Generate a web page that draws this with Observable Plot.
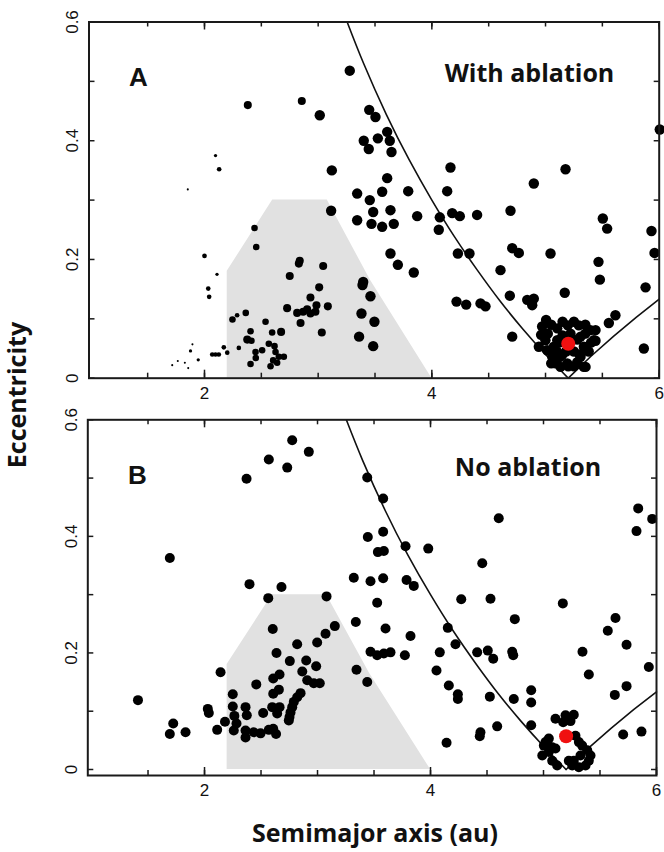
<!DOCTYPE html>
<html><head><meta charset="utf-8">
<script src="https://cdn.jsdelivr.net/npm/d3@7"></script>
<script src="https://cdn.jsdelivr.net/npm/@observablehq/plot@0.6"></script>
<style>
body{margin:0;background:#fff;}
#fig{position:relative;width:664px;height:852px;overflow:hidden;background:#fff;}
.pan{position:absolute;left:0;}
.ytitle{position:absolute;left:16px;top:395px;transform:translate(-50%,-50%) rotate(-90deg);font-weight:bold;font-size:25px;font-family:"Open Sans",Lato,sans-serif;white-space:nowrap;color:#111;}
.xtitle{position:absolute;left:375px;top:832px;transform:translate(-50%,-50%);font-weight:bold;font-size:25px;font-family:"Open Sans",Lato,sans-serif;white-space:nowrap;color:#111;}
</style></head><body><div id="fig"></div><script>
// ---- Panel A (with ablation): semimajor axis (au), eccentricity, relative mass class
const aA = [3.278,2.381,2.856,3.014,3.449,3.504,3.401,3.445,3.525,3.607,3.630,3.645,3.12,2.097,2.129,1.853,3.343,3.454,3.484,3.563,3.607,3.636,3.343,3.469,3.563,3.665,3.114,2.44,2.455,2.0,2.11,2.033,2.041,2.838,2.83,3.044,2.75,3.396,3.39,3.009,2.932,3.46,2.985,3.085,2.727,2.815,2.868,2.903,2.932,2.976,2.845,3.381,3.495,2.246,2.287,2.363,2.537,3.032,3.36,3.484,2.405,2.376,2.413,2.595,2.674,2.302,2.17,2.2,2.068,2.097,2.126,1.894,1.877,1.945,1.765,1.827,1.857,1.716,2.449,2.507,2.451,2.405,2.566,2.616,2.625,2.654,2.698,2.604,2.639,2.581,
4.164,5.176,4.897,6.005,3.792,3.871,4.135,4.070,4.061,4.179,4.246,4.398,4.692,5.504,5.542,5.932,5.959,4.229,4.331,4.707,4.765,5.044,3.636,3.701,3.841,4.604,5.466,5.478,5.88,5.169,4.686,4.839,4.897,4.883,4.217,4.302,4.428,4.472,5.615,5.557,4.707,5.865,5.440,5.352,5.005,4.970,4.961,4.941,5.103,5.196,5.293,5.395,5.44,5.425,5.308,5.337,5.308,5.279,5.337,5.073,5.059,5.088,5.132,5.191,5.146,5.103,4.999,5.014,5.15,5.25,5.22,5.1,5.35,
5.05,5.15,5.25,5.35,5.02,5.12,5.28,5.38,5.18,5.2,5.25,5.12,5.4,5.05,5.3];
const eA = [0.518,0.460,0.467,0.443,0.452,0.440,0.400,0.386,0.404,0.415,0.400,0.381,0.350,0.375,0.352,0.318,0.311,0.300,0.280,0.314,0.337,0.283,0.266,0.260,0.255,0.260,0.282,0.253,0.221,0.206,0.175,0.151,0.137,0.198,0.193,0.189,0.172,0.162,0.157,0.153,0.136,0.138,0.123,0.121,0.118,0.110,0.112,0.116,0.109,0.112,0.093,0.109,0.095,0.099,0.106,0.110,0.095,0.077,0.070,0.054,0.079,0.065,0.063,0.077,0.078,0.051,0.052,0.043,0.040,0.040,0.040,0.057,0.046,0.031,0.029,0.026,0.017,0.022,0.044,0.047,0.034,0.024,0.058,0.054,0.044,0.036,0.036,0.030,0.026,0.020,
0.355,0.352,0.328,0.419,0.315,0.273,0.315,0.271,0.250,0.278,0.273,0.275,0.282,0.269,0.252,0.248,0.211,0.210,0.210,0.219,0.211,0.210,0.210,0.191,0.178,0.182,0.196,0.166,0.153,0.144,0.139,0.132,0.134,0.123,0.129,0.124,0.126,0.121,0.106,0.093,0.070,0.050,0.063,0.019,0.098,0.087,0.073,0.053,0.084,0.089,0.089,0.081,0.081,0.064,0.070,0.053,0.036,0.027,0.019,0.053,0.036,0.025,0.019,0.025,0.039,0.064,0.064,0.047,0.072,0.045,0.075,0.045,0.075,
0.090,0.095,0.095,0.090,0.075,0.060,0.065,0.045,0.045,0.020,0.020,0.035,0.060,0.025,0.040];
const mA = [1,0.6,0.6,1,1,1,1,1,1,1,1,1,1,0.1,0.2,0.04,1,1,1,1,1,1,1,1,1,1,1,0.4,0.4,0.2,0.1,0.2,0.2,0.6,0.6,0.6,0.6,1,1,0.6,0.6,1,0.6,0.6,0.6,0.6,0.6,0.6,0.6,0.6,0.6,1,1,0.4,0.2,0.4,0.4,0.6,1,1,0.4,0.6,0.4,0.4,0.6,0.2,0.2,0.2,0.2,0.2,0.2,0.04,0.1,0.1,0.04,0.04,0.04,0.04,0.4,0.4,0.4,0.4,0.4,0.4,0.4,0.4,0.4,0.4,0.4,0.4,
1,1,1,1,1,1,1,1,1,1,1,1,1,1,1,1,1,1,1,1,1,1,1,1,1,1,1,1,1,1,1,1,1,1,1,1,1,1,1,1,1,1,1,1,1,1,1,1,1,1,1,1,1,1,1,1,1,1,1,1,1,1,1,1,1,1,1,1,1,1,1,1,1,
1,1,1,1,1,1,1,1,1,1,1,1,1,1,1];

// ---- Panel B (no ablation)
const aB = [2.776,2.923,2.569,2.732,2.372,3.44,1.693,3.445,3.534,3.321,3.469,2.398,2.681,2.564,3.08,3.528,2.604,3.153,3.071,2.997,3.339,2.82,2.637,2.755,2.9,2.988,2.865,2.909,2.967,3.02,3.345,3.44,2.142,2.608,2.664,2.458,2.608,2.658,2.85,2.82,2.79,2.776,2.761,2.752,2.746,2.25,1.411,2.029,2.038,2.25,2.363,2.374,2.264,2.181,2.283,2.259,2.363,2.363,2.519,2.599,2.664,2.643,1.723,1.693,1.832,2.112,2.436,2.496,2.569,2.608,2.633,
3.581,4.604,5.838,5.962,5.823,3.581,3.587,3.779,3.98,4.458,3.581,3.788,3.852,4.272,4.531,5.171,4.746,5.637,5.569,3.602,3.823,4.153,5.735,3.469,3.528,3.587,3.646,3.773,4.082,4.221,4.413,4.507,4.555,4.723,4.732,5.345,5.932,5.401,4.053,4.162,4.242,4.242,4.525,4.737,4.891,4.891,4.891,5.631,5.735,4.59,4.442,4.436,4.142,5.705,5.867,
5.106,5.195,5.268,5.239,5.174,5.018,4.989,5.047,5.077,5.121,5.106,5.077,5.283,5.313,5.342,5.387,5.416,5.401,5.327,5.268,5.224,5.254,5.313,5.372,5.047,5.003];
const eB = [0.565,0.545,0.532,0.518,0.499,0.501,0.363,0.399,0.373,0.329,0.323,0.318,0.313,0.294,0.297,0.286,0.241,0.246,0.233,0.218,0.253,0.215,0.200,0.186,0.187,0.177,0.168,0.153,0.148,0.148,0.171,0.150,0.167,0.156,0.163,0.146,0.130,0.137,0.131,0.124,0.116,0.107,0.098,0.090,0.084,0.129,0.119,0.104,0.097,0.108,0.107,0.093,0.092,0.082,0.079,0.067,0.067,0.055,0.097,0.107,0.107,0.096,0.079,0.061,0.064,0.068,0.064,0.062,0.068,0.070,0.061,
0.465,0.431,0.448,0.430,0.409,0.408,0.375,0.383,0.379,0.354,0.328,0.325,0.315,0.292,0.293,0.285,0.258,0.260,0.238,0.242,0.229,0.243,0.214,0.202,0.196,0.199,0.201,0.196,0.201,0.215,0.201,0.204,0.190,0.202,0.196,0.202,0.176,0.163,0.170,0.144,0.129,0.121,0.125,0.121,0.136,0.115,0.076,0.128,0.143,0.074,0.064,0.057,0.046,0.060,0.065,
0.087,0.093,0.094,0.083,0.081,0.047,0.024,0.030,0.015,0.007,0.036,0.038,0.058,0.047,0.041,0.033,0.024,0.015,0.024,0.015,0.015,0.007,0.004,0.007,0.053,0.041];

// ---- Jupiter
const jupA = {a: [5.2], e: [0.058]};
const jupB = {a: [5.2], e: [0.057]};

// ---- Boundary curves
const edgeLeftA = [3.255,3.4,3.6,3.8,4.0,4.2,4.4,4.6,4.8,5.0,5.2];
const edgeLeftE = [0.600,0.530,0.444,0.368,0.300,0.238,0.182,0.130,0.083,0.040,0.000];
const edgeRightA = [5.2,5.4,5.6,5.8,6.0];
const edgeRightE = [0.000,0.037,0.071,0.103,0.133];

// ---- Grey (asteroid belt) region
const beltA = [2.2,2.2,2.6,3.08,3.46,4.0];
const beltE = [0.0,0.18,0.30,0.30,0.165,0.0];

// ---- Ticks
const xTicks = [1.5,2,2.5,3,3.5,4,4.5,5,5.5,6];
const xTickLabels = [2,4,6];
const yTicks = [0,0.1,0.2,0.3,0.4,0.5,0.6];
const yTickLabels = [0,0.2,0.4,0.6];

const panels = [
  {letter: "A", title: "With ablation", a: aA, e: eA, m: mA, jup: jupA,
   top: 0, height: 400, marginTop: 21.5, marginBottom: 22.3, marginLeft: 88.5, marginRight: 5.3,
   xDomain: [0.984, 6], yDomain: [0, 0.6], xLabDy: 15.5,
   letterPos: [49.5, 56], titlePos: [440.5, 51.5], rMax: 5.2},
  {letter: "B", title: "No ablation", a: aB, e: eB, m: null, jup: jupB,
   top: 400, height: 400, marginTop: 19.3, marginBottom: 25, marginLeft: 87.3, marginRight: 8,
   xDomain: [0.967, 6], yDomain: [-0.0103, 0.6], xLabDy: 15,
   letterPos: [49.7, 55.7], titlePos: [440.2, 48.2], rMax: 5}
];

const fig = document.getElementById("fig");
const tickColor = "#1a1a1a";

for (const p of panels) {
  const pts = p.a.map((a, i) => ({a, e: p.e[i], m: p.m ? p.m[i] : 1}));
  const left = edgeLeftA.map((a, i) => ({a, e: edgeLeftE[i]}));
  const right = edgeRightA.map((a, i) => ({a, e: edgeRightE[i]}));
  const belt = beltA.map((a, i) => ({a, e: beltE[i]}));
  const jup = p.jup.a.map((a, i) => ({a, e: p.jup.e[i]}));
  const fw = 664 - p.marginLeft - p.marginRight;
  const fh = p.height - p.marginTop - p.marginBottom;
  const chart = Plot.plot({
    width: 664, height: p.height,
    marginTop: p.marginTop, marginBottom: p.marginBottom,
    marginLeft: p.marginLeft, marginRight: p.marginRight,
    x: {domain: p.xDomain, axis: null},
    y: {domain: p.yDomain, axis: null},
    r: {type: "sqrt", domain: [0, 1], range: [0, p.rMax]},
    style: {fontFamily: "'Liberation Sans', Arial, sans-serif", background: "white", overflow: "visible", color: "#111"},
    marks: [
      Plot.areaY(belt, {x: "a", y1: 0, y2: "e", fill: "#e1e1e1"}),
      Plot.line(left, {x: "a", y: "e", stroke: "#111", strokeWidth: 1.6, curve: "natural"}),
      Plot.line(right, {x: "a", y: "e", stroke: "#111", strokeWidth: 1.6}),
      Plot.dot(pts, {x: "a", y: "e", r: "m", fill: "#000"}),
      Plot.dot(jup, {x: "a", y: "e", r: 7, fill: "#f01010"}),
      Plot.frame({stroke: "#1a1a1a", strokeWidth: 2}),
      // inward ticks
      Plot.tickX(xTicks, {x: d => d, insetTop: fh - 5, stroke: tickColor, strokeWidth: 1.5}),
      Plot.tickX(xTickLabels, {x: d => d, insetTop: fh - 8, stroke: tickColor, strokeWidth: 1.5}),
      Plot.tickX(xTicks, {x: d => d, insetBottom: fh - 5, stroke: tickColor, strokeWidth: 1.5}),
      Plot.tickX(xTickLabels, {x: d => d, insetBottom: fh - 8, stroke: tickColor, strokeWidth: 1.5}),
      Plot.tickY(yTicks, {y: d => d, insetRight: fw - 6, stroke: tickColor, strokeWidth: 1.5}),
      Plot.tickY(yTicks, {y: d => d, insetLeft: fw - 5, stroke: tickColor, strokeWidth: 1.5}),
      // tick labels
      Plot.text(xTickLabels, {x: d => d, text: d => String(d), frameAnchor: "bottom", dy: p.xLabDy, lineAnchor: "middle", fontSize: 17, fill: "#111"}),
      Plot.text(yTickLabels, {y: d => d, text: d => String(d), frameAnchor: "left", dx: -16.5, rotate: -90, textAnchor: "middle", lineAnchor: "middle", fontSize: 17, fill: "#111"}),
      // panel letter and title
      Plot.text([p.letter], {text: d => d, frameAnchor: "top-left", dx: p.letterPos[0], dy: p.letterPos[1], textAnchor: "middle", lineAnchor: "middle", fontSize: 26, fontWeight: "bold", fill: "#111"}),
      Plot.text([p.title], {text: d => d, frameAnchor: "top-left", dx: p.titlePos[0], dy: p.titlePos[1], textAnchor: "middle", lineAnchor: "middle", fontSize: 25, fontWeight: "bold", fontFamily: "'Open Sans', Lato, sans-serif", fill: "#111"})
    ]
  });
  chart.classList.add("pan");
  chart.style.top = p.top + "px";
  fig.appendChild(chart);
}

const yt = document.createElement("div");
yt.className = "ytitle";
yt.textContent = "Eccentricity";
fig.appendChild(yt);
const xt = document.createElement("div");
xt.className = "xtitle";
xt.textContent = "Semimajor axis (au)";
fig.appendChild(xt);
</script></body></html>
